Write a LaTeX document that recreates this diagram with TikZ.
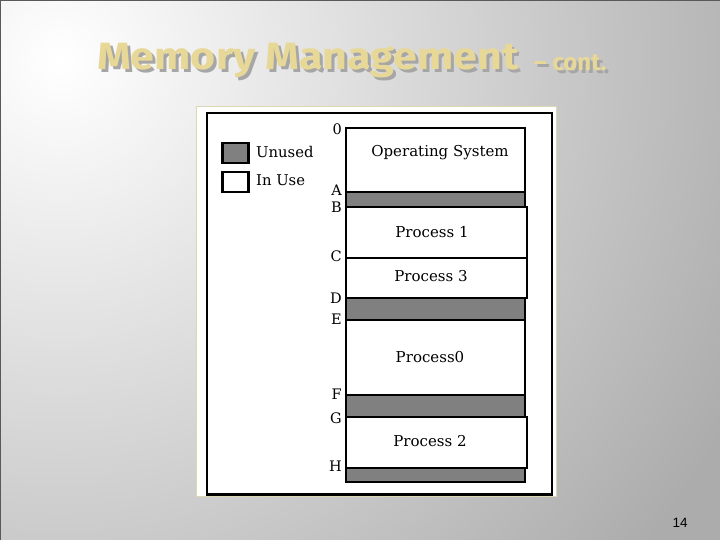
\documentclass[tikz,border=0pt]{standalone}
\usepackage{fontspec}
\usepackage{graphicx}
\newfontfamily\titlefont{Fira Sans}
\newfontfamily\numfont{Liberation Sans}
\newfontfamily\diafont{DejaVu Serif}
\definecolor{unusedgrey}{HTML}{808080}
\definecolor{titlegold}{HTML}{E8D898}
\definecolor{titleshadow}{HTML}{A6A6A6}
\definecolor{framecream}{HTML}{DCD8B4}
\definecolor{bgouter}{HTML}{ACACAC}
\newcommand{\shadowed}[1]{\makebox[0pt][l]{\kern3pt\raisebox{-3pt}{\textcolor{titleshadow}{#1}}}\textcolor{titlegold}{#1}}
\tikzset{
  membox/.style={draw=black, line width=2.2pt, inner sep=0pt, anchor=north west, minimum width=179pt},
  freebox/.style={membox, fill=unusedgrey},
  usedbox/.style={membox, fill=white},
  memtext/.style={font=\diafont\fontsize{15}{16}\selectfont, inner sep=0pt},
  addr/.style={font=\diafont\fontsize{14.5}{16}\selectfont, inner sep=0pt, anchor=east},
  legbox/.style={draw=black, line width=2.5pt, inner sep=0pt, anchor=north west, minimum width=26pt, minimum height=20pt},
  legtext/.style={font=\diafont\fontsize{14.8}{16}\selectfont, inner sep=0pt, anchor=west},
  titletext/.style={anchor=base west, inner sep=0pt, font=\titlefont\bfseries\fontsize{38}{40}\selectfont},
  subtext/.style={anchor=base west, inner sep=0pt, font=\titlefont\bfseries\fontsize{24}{26}\selectfont},
}
\begin{document}
\begin{tikzpicture}[x=1pt,y=-1pt]
\useasboundingbox (0,0) rectangle (720,540);
% background
\begin{scope}
\clip (0,0) rectangle (720,540);
\fill[bgouter] (0,0) rectangle (720,540);
\shade[inner color=white, outer color=bgouter] (60,60) circle (760);
\end{scope}
\draw[gray!70!black, line width=1.2pt] (0.6,540) -- (0.6,0.6) -- (720,0.6);
% title
\node[titletext] (title) at (97,70) {\shadowed{\scalebox{1.13}[1]{Memory Management}}};
\node[subtext] (sub) at (534,71) {\shadowed{– cont.}};
% picture frame
\node[draw=framecream, fill=white, line width=1pt, inner sep=0pt, anchor=north west, minimum width=360pt, minimum height=390pt] (outerframe) at (196,106) {};
\node[draw=black, line width=2.5pt, inner sep=0pt, anchor=north west, minimum width=345pt, minimum height=381pt] (innerframe) at (205.5,112) {};
% legend
\node[legbox, fill=unusedgrey] (legunused) at (221,142) {};
\node[legbox, fill=white] (leginuse) at (221,171) {};
\node[legtext] (tunused) at (256,152) {Unused};
\node[legtext] (tinuse) at (256,180) {In Use};
% memory column
\node[usedbox, minimum height=64pt] (os) at (345,127) {};
\node[freebox, minimum height=15pt] (g1) at (345,191) {};
\node[usedbox, minimum height=51pt, minimum width=181pt] (p1) at (345,206) {};
\node[usedbox, minimum height=40pt, minimum width=181pt] (p3) at (345,257) {};
\node[freebox, minimum height=22pt] (g2) at (345,297) {};
\node[usedbox, minimum height=75pt] (p0) at (345,319) {};
\node[freebox, minimum height=22pt] (g3) at (345,394) {};
\node[usedbox, minimum height=51pt, minimum width=181pt] (p2) at (345,416) {};
\node[freebox, minimum height=14pt] (g4) at (345,467) {};
% texts
\node[memtext] (tos) at (440,153) {Operating System};
\node[memtext] (tp1) at (432,232) {Process 1};
\node[memtext] (tp3) at (431,276) {Process 3};
\node[memtext] (tp0) at (430,357) {Process0};
\node[memtext] (tp2) at (430,441) {Process 2};
% addresses
\node[addr] (a0) at (342,129) {0};
\node[addr] (aA) at (342,190) {A};
\node[addr] (aB) at (342,207) {B};
\node[addr] (aC) at (342,256) {C};
\node[addr] (aD) at (342,298) {D};
\node[addr] (aE) at (342,319) {E};
\node[addr] (aF) at (342,394) {F};
\node[addr] (aG) at (342,418) {G};
\node[addr] (aH) at (342,466) {H};
% slide number
\node[font=\numfont\fontsize{13.5}{14}\selectfont, inner sep=0pt] (num) at (680,523) {14};
\end{tikzpicture}
\end{document}
